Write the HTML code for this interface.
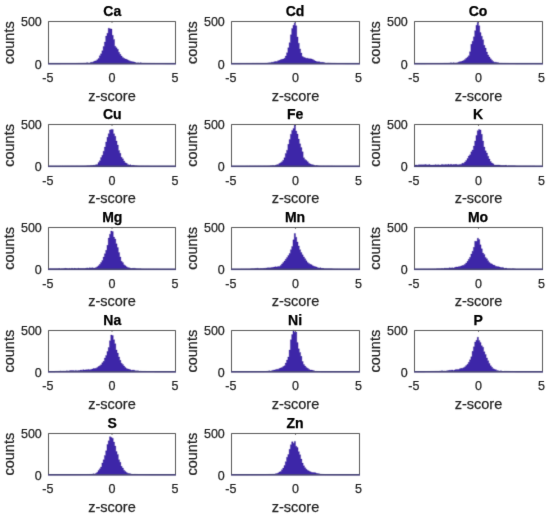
<!DOCTYPE html><html><head><meta charset="utf-8"><style>html,body{margin:0;padding:0;background:#fff;}svg{display:block}text{font-family:"Liberation Sans",sans-serif;fill:#262626;stroke:#262626;stroke-width:0.25px}</style></head><body>
<svg width="550" height="517" viewBox="0 0 550 517">
<defs>
<filter id="bl" x="0" y="0" width="550" height="517" filterUnits="userSpaceOnUse"><feConvolveMatrix order="3" kernelMatrix="0.0113 0.0838 0.0113 0.0838 0.6193 0.0838 0.0113 0.0838 0.0113" edgeMode="none"/></filter>
<filter id="bt" x="0" y="0" width="550" height="517" filterUnits="userSpaceOnUse"><feConvolveMatrix order="3" kernelMatrix="0.0052 0.0619 0.0052 0.0619 0.7314 0.0619 0.0052 0.0619 0.0052" edgeMode="none"/></filter>
</defs>
<rect width="550" height="517" fill="#fff"/>
<g filter="url(#bl)">
<path d="M48.50,63.70 L48.50,63.70 L49.77,63.70 L49.77,63.70 L51.04,63.70 L51.04,63.70 L52.31,63.70 L52.31,63.70 L53.58,63.70 L53.58,63.70 L54.85,63.70 L54.85,63.70 L56.12,63.70 L56.12,63.70 L57.39,63.70 L57.39,63.70 L58.66,63.70 L58.66,63.70 L59.93,63.70 L59.93,63.60 L61.20,63.60 L61.20,63.59 L62.47,63.59 L62.47,63.58 L63.74,63.58 L63.74,63.57 L65.01,63.57 L65.01,63.56 L66.28,63.56 L66.28,63.55 L67.55,63.55 L67.55,63.55 L68.82,63.55 L68.82,63.54 L70.09,63.54 L70.09,63.53 L71.36,63.53 L71.36,63.52 L72.63,63.52 L72.63,63.51 L73.90,63.51 L73.90,63.50 L75.17,63.50 L75.17,63.47 L76.44,63.47 L76.44,63.43 L77.71,63.43 L77.71,63.39 L78.98,63.39 L78.98,63.35 L80.25,63.35 L80.25,63.30 L81.52,63.30 L81.52,63.26 L82.79,63.26 L82.79,63.22 L84.06,63.22 L84.06,63.15 L85.33,63.15 L85.33,63.11 L86.60,63.11 L86.60,62.69 L87.87,62.69 L87.87,63.09 L89.14,63.09 L89.14,63.09 L90.41,63.09 L90.41,62.35 L91.68,62.35 L91.68,62.18 L92.95,62.18 L92.95,61.69 L94.22,61.69 L94.22,61.11 L95.49,61.11 L95.49,60.74 L96.76,60.74 L96.76,59.69 L98.03,59.69 L98.03,58.49 L99.30,58.49 L99.30,55.72 L100.57,55.72 L100.57,53.81 L101.84,53.81 L101.84,50.71 L103.11,50.71 L103.11,46.57 L104.38,46.57 L104.38,41.97 L105.65,41.97 L105.65,36.09 L106.92,36.09 L106.92,33.18 L108.19,33.18 L108.19,28.23 L109.46,28.23 L109.46,28.80 L110.73,28.80 L110.73,29.06 L112.00,29.06 L112.00,35.22 L113.27,35.22 L113.27,39.39 L114.54,39.39 L114.54,46.22 L115.81,46.22 L115.81,47.72 L117.08,47.72 L117.08,49.35 L118.35,49.35 L118.35,52.32 L119.62,52.32 L119.62,54.23 L120.89,54.23 L120.89,55.96 L122.16,55.96 L122.16,57.40 L123.43,57.40 L123.43,58.37 L124.70,58.37 L124.70,58.93 L125.97,58.93 L125.97,59.32 L127.24,59.32 L127.24,60.02 L128.51,60.02 L128.51,60.67 L129.78,60.67 L129.78,61.13 L131.05,61.13 L131.05,61.57 L132.32,61.57 L132.32,61.78 L133.59,61.78 L133.59,61.97 L134.86,61.97 L134.86,62.48 L136.13,62.48 L136.13,62.89 L137.40,62.89 L137.40,62.72 L138.67,62.72 L138.67,63.01 L139.94,63.01 L139.94,62.71 L141.21,62.71 L141.21,63.11 L142.48,63.11 L142.48,63.20 L143.75,63.20 L143.75,63.24 L145.02,63.24 L145.02,63.28 L146.29,63.28 L146.29,63.31 L147.56,63.31 L147.56,63.35 L148.83,63.35 L148.83,63.38 L150.10,63.38 L150.10,63.41 L151.37,63.41 L151.37,63.43 L152.64,63.43 L152.64,63.44 L153.91,63.44 L153.91,63.46 L155.18,63.46 L155.18,63.48 L156.45,63.48 L156.45,63.49 L157.72,63.49 L157.72,63.51 L158.99,63.51 L158.99,63.53 L160.26,63.53 L160.26,63.55 L161.53,63.55 L161.53,63.56 L162.80,63.56 L162.80,63.58 L164.07,63.58 L164.07,63.60 L165.34,63.60 L165.34,63.70 L166.61,63.70 L166.61,63.70 L167.88,63.70 L167.88,63.70 L169.15,63.70 L169.15,63.70 L170.42,63.70 L170.42,63.70 L171.69,63.70 L171.69,63.70 L172.96,63.70 L172.96,63.70 L174.23,63.70 L174.23,63.70 L175.50,63.70 L175.50,63.70 Z" fill="#3e26a8" stroke="#2a1a86" stroke-width="0.3" stroke-linejoin="miter"/>
<path d="M48.5,63.70 L48.5,21.5 L175.5,21.5 L175.5,63.70" fill="none" stroke="#565656" stroke-width="1.0"/>
<rect x="48.0" y="62.90" width="128.0" height="1.6" fill="#4a4478"/>
<line x1="48.50" y1="21.5" x2="48.50" y2="22.8" stroke="#565656" stroke-width="1"/>
<line x1="112.00" y1="21.5" x2="112.00" y2="22.8" stroke="#565656" stroke-width="1"/>
<line x1="175.50" y1="21.5" x2="175.50" y2="22.8" stroke="#565656" stroke-width="1"/>
<path d="M231.50,63.70 L231.50,63.70 L232.78,63.70 L232.78,63.70 L234.06,63.70 L234.06,63.70 L235.34,63.70 L235.34,63.70 L236.62,63.70 L236.62,63.70 L237.90,63.70 L237.90,63.70 L239.18,63.70 L239.18,63.70 L240.46,63.70 L240.46,63.50 L241.74,63.50 L241.74,63.49 L243.02,63.49 L243.02,63.49 L244.30,63.49 L244.30,63.48 L245.58,63.48 L245.58,63.48 L246.86,63.48 L246.86,63.47 L248.14,63.47 L248.14,63.46 L249.42,63.46 L249.42,63.46 L250.70,63.46 L250.70,63.45 L251.98,63.45 L251.98,63.40 L253.26,63.40 L253.26,63.39 L254.54,63.39 L254.54,63.39 L255.82,63.39 L255.82,63.38 L257.10,63.38 L257.10,63.37 L258.38,63.37 L258.38,63.37 L259.66,63.37 L259.66,63.36 L260.94,63.36 L260.94,63.36 L262.22,63.36 L262.22,63.35 L263.50,63.35 L263.50,63.34 L264.78,63.34 L264.78,63.28 L266.06,63.28 L266.06,63.26 L267.34,63.26 L267.34,62.92 L268.62,62.92 L268.62,62.78 L269.90,62.78 L269.90,62.73 L271.18,62.73 L271.18,62.20 L272.46,62.20 L272.46,62.26 L273.74,62.26 L273.74,61.68 L275.02,61.68 L275.02,61.47 L276.30,61.47 L276.30,61.47 L277.58,61.47 L277.58,60.72 L278.86,60.72 L278.86,60.35 L280.14,60.35 L280.14,59.82 L281.42,59.82 L281.42,59.35 L282.70,59.35 L282.70,59.07 L283.98,59.07 L283.98,58.20 L285.26,58.20 L285.26,56.06 L286.54,56.06 L286.54,52.64 L287.82,52.64 L287.82,47.78 L289.10,47.78 L289.10,42.67 L290.38,42.67 L290.38,34.83 L291.66,34.83 L291.66,28.39 L292.94,28.39 L292.94,25.24 L294.22,25.24 L294.22,22.70 L295.50,22.70 L295.50,25.74 L296.78,25.74 L296.78,36.88 L298.06,36.88 L298.06,43.16 L299.34,43.16 L299.34,48.89 L300.62,48.89 L300.62,52.93 L301.90,52.93 L301.90,56.54 L303.18,56.54 L303.18,57.32 L304.46,57.32 L304.46,57.85 L305.74,57.85 L305.74,58.26 L307.02,58.26 L307.02,58.22 L308.30,58.22 L308.30,58.67 L309.58,58.67 L309.58,58.81 L310.86,58.81 L310.86,58.91 L312.14,58.91 L312.14,59.57 L313.42,59.57 L313.42,60.26 L314.70,60.26 L314.70,61.07 L315.98,61.07 L315.98,61.61 L317.26,61.61 L317.26,61.86 L318.54,61.86 L318.54,61.67 L319.82,61.67 L319.82,62.19 L321.10,62.19 L321.10,62.26 L322.38,62.26 L322.38,62.35 L323.66,62.35 L323.66,62.64 L324.94,62.64 L324.94,63.11 L326.22,63.11 L326.22,63.18 L327.50,63.18 L327.50,62.94 L328.78,62.94 L328.78,63.13 L330.06,63.13 L330.06,63.20 L331.34,63.20 L331.34,63.28 L332.62,63.28 L332.62,63.35 L333.90,63.35 L333.90,63.37 L335.18,63.37 L335.18,63.40 L336.46,63.40 L336.46,63.47 L337.74,63.47 L337.74,63.49 L339.02,63.49 L339.02,63.51 L340.30,63.51 L340.30,63.53 L341.58,63.53 L341.58,63.55 L342.86,63.55 L342.86,63.58 L344.14,63.58 L344.14,63.60 L345.42,63.60 L345.42,63.70 L346.70,63.70 L346.70,63.70 L347.98,63.70 L347.98,63.70 L349.26,63.70 L349.26,63.70 L350.54,63.70 L350.54,63.70 L351.82,63.70 L351.82,63.70 L353.10,63.70 L353.10,63.70 L354.38,63.70 L354.38,63.70 L355.66,63.70 L355.66,63.70 L356.94,63.70 L356.94,63.70 L358.22,63.70 L358.22,63.70 L359.50,63.70 L359.50,63.70 Z" fill="#3e26a8" stroke="#2a1a86" stroke-width="0.3" stroke-linejoin="miter"/>
<path d="M231.5,63.70 L231.5,21.5 L359.5,21.5 L359.5,63.70" fill="none" stroke="#565656" stroke-width="1.0"/>
<rect x="231.0" y="62.90" width="129.0" height="1.6" fill="#4a4478"/>
<line x1="231.50" y1="21.5" x2="231.50" y2="22.8" stroke="#565656" stroke-width="1"/>
<line x1="295.50" y1="21.5" x2="295.50" y2="22.8" stroke="#565656" stroke-width="1"/>
<line x1="359.50" y1="21.5" x2="359.50" y2="22.8" stroke="#565656" stroke-width="1"/>
<path d="M414.50,63.70 L414.50,63.70 L415.78,63.70 L415.78,63.70 L417.06,63.70 L417.06,63.70 L418.34,63.70 L418.34,63.70 L419.62,63.70 L419.62,63.70 L420.90,63.70 L420.90,63.70 L422.18,63.70 L422.18,63.70 L423.46,63.70 L423.46,63.70 L424.74,63.70 L424.74,63.60 L426.02,63.60 L426.02,63.59 L427.30,63.59 L427.30,63.58 L428.58,63.58 L428.58,63.57 L429.86,63.57 L429.86,63.56 L431.14,63.56 L431.14,63.55 L432.42,63.55 L432.42,63.55 L433.70,63.55 L433.70,63.54 L434.98,63.54 L434.98,63.53 L436.26,63.53 L436.26,63.52 L437.54,63.52 L437.54,63.51 L438.82,63.51 L438.82,63.50 L440.10,63.50 L440.10,63.48 L441.38,63.48 L441.38,63.45 L442.66,63.45 L442.66,63.42 L443.94,63.42 L443.94,63.39 L445.22,63.39 L445.22,63.35 L446.50,63.35 L446.50,63.32 L447.78,63.32 L447.78,63.27 L449.06,63.27 L449.06,63.17 L450.34,63.17 L450.34,62.86 L451.62,62.86 L451.62,63.11 L452.90,63.11 L452.90,62.76 L454.18,62.76 L454.18,63.01 L455.46,63.01 L455.46,62.88 L456.74,62.88 L456.74,62.69 L458.02,62.69 L458.02,62.14 L459.30,62.14 L459.30,61.66 L460.58,61.66 L460.58,61.56 L461.86,61.56 L461.86,60.93 L463.14,60.93 L463.14,60.50 L464.42,60.50 L464.42,59.39 L465.70,59.39 L465.70,58.25 L466.98,58.25 L466.98,57.13 L468.26,57.13 L468.26,55.75 L469.54,55.75 L469.54,51.76 L470.82,51.76 L470.82,44.35 L472.10,44.35 L472.10,41.31 L473.38,41.31 L473.38,36.85 L474.66,36.85 L474.66,30.63 L475.94,30.63 L475.94,25.30 L477.22,25.30 L477.22,22.20 L478.50,22.20 L478.50,25.71 L479.78,25.71 L479.78,32.57 L481.06,32.57 L481.06,36.18 L482.34,36.18 L482.34,39.71 L483.62,39.71 L483.62,45.29 L484.90,45.29 L484.90,48.09 L486.18,48.09 L486.18,52.04 L487.46,52.04 L487.46,54.90 L488.74,54.90 L488.74,56.94 L490.02,56.94 L490.02,58.82 L491.30,58.82 L491.30,60.16 L492.58,60.16 L492.58,61.40 L493.86,61.40 L493.86,62.24 L495.14,62.24 L495.14,62.15 L496.42,62.15 L496.42,62.58 L497.70,62.58 L497.70,62.71 L498.98,62.71 L498.98,63.32 L500.26,63.32 L500.26,63.19 L501.54,63.19 L501.54,63.30 L502.82,63.30 L502.82,63.33 L504.10,63.33 L504.10,63.36 L505.38,63.36 L505.38,63.39 L506.66,63.39 L506.66,63.42 L507.94,63.42 L507.94,63.45 L509.22,63.45 L509.22,63.48 L510.50,63.48 L510.50,63.51 L511.78,63.51 L511.78,63.54 L513.06,63.54 L513.06,63.57 L514.34,63.57 L514.34,63.60 L515.62,63.60 L515.62,63.70 L516.90,63.70 L516.90,63.70 L518.18,63.70 L518.18,63.70 L519.46,63.70 L519.46,63.70 L520.74,63.70 L520.74,63.70 L522.02,63.70 L522.02,63.70 L523.30,63.70 L523.30,63.70 L524.58,63.70 L524.58,63.70 L525.86,63.70 L525.86,63.70 L527.14,63.70 L527.14,63.70 L528.42,63.70 L528.42,63.70 L529.70,63.70 L529.70,63.70 L530.98,63.70 L530.98,63.70 L532.26,63.70 L532.26,63.70 L533.54,63.70 L533.54,63.70 L534.82,63.70 L534.82,63.70 L536.10,63.70 L536.10,63.70 L537.38,63.70 L537.38,63.70 L538.66,63.70 L538.66,63.70 L539.94,63.70 L539.94,63.70 L541.22,63.70 L541.22,63.70 L542.50,63.70 L542.50,63.70 Z" fill="#3e26a8" stroke="#2a1a86" stroke-width="0.3" stroke-linejoin="miter"/>
<path d="M414.5,63.70 L414.5,21.5 L542.5,21.5 L542.5,63.70" fill="none" stroke="#565656" stroke-width="1.0"/>
<rect x="414.0" y="62.90" width="129.0" height="1.6" fill="#4a4478"/>
<line x1="414.50" y1="21.5" x2="414.50" y2="22.8" stroke="#565656" stroke-width="1"/>
<line x1="478.50" y1="21.5" x2="478.50" y2="22.8" stroke="#565656" stroke-width="1"/>
<line x1="542.50" y1="21.5" x2="542.50" y2="22.8" stroke="#565656" stroke-width="1"/>
<path d="M48.50,166.30 L48.50,166.30 L49.77,166.30 L49.77,166.30 L51.04,166.30 L51.04,166.30 L52.31,166.30 L52.31,166.30 L53.58,166.30 L53.58,166.30 L54.85,166.30 L54.85,166.30 L56.12,166.30 L56.12,166.30 L57.39,166.30 L57.39,166.30 L58.66,166.30 L58.66,166.30 L59.93,166.30 L59.93,166.20 L61.20,166.20 L61.20,166.19 L62.47,166.19 L62.47,166.18 L63.74,166.18 L63.74,166.18 L65.01,166.18 L65.01,166.17 L66.28,166.17 L66.28,166.17 L67.55,166.17 L67.55,166.16 L68.82,166.16 L68.82,166.15 L70.09,166.15 L70.09,166.15 L71.36,166.15 L71.36,166.14 L72.63,166.14 L72.63,166.13 L73.90,166.13 L73.90,166.13 L75.17,166.13 L75.17,166.12 L76.44,166.12 L76.44,166.11 L77.71,166.11 L77.71,166.11 L78.98,166.11 L78.98,166.10 L80.25,166.10 L80.25,166.07 L81.52,166.07 L81.52,166.02 L82.79,166.02 L82.79,165.97 L84.06,165.97 L84.06,165.92 L85.33,165.92 L85.33,165.88 L86.60,165.88 L86.60,165.83 L87.87,165.83 L87.87,165.76 L89.14,165.76 L89.14,165.72 L90.41,165.72 L90.41,165.38 L91.68,165.38 L91.68,165.46 L92.95,165.46 L92.95,165.32 L94.22,165.32 L94.22,165.23 L95.49,165.23 L95.49,164.75 L96.76,164.75 L96.76,164.38 L98.03,164.38 L98.03,162.55 L99.30,162.55 L99.30,160.68 L100.57,160.68 L100.57,157.61 L101.84,157.61 L101.84,155.17 L103.11,155.17 L103.11,151.14 L104.38,151.14 L104.38,147.09 L105.65,147.09 L105.65,141.92 L106.92,141.92 L106.92,137.33 L108.19,137.33 L108.19,133.66 L109.46,133.66 L109.46,130.00 L110.73,130.00 L110.73,129.40 L112.00,129.40 L112.00,129.47 L113.27,129.47 L113.27,133.77 L114.54,133.77 L114.54,136.34 L115.81,136.34 L115.81,140.98 L117.08,140.98 L117.08,145.02 L118.35,145.02 L118.35,150.46 L119.62,150.46 L119.62,153.34 L120.89,153.34 L120.89,157.28 L122.16,157.28 L122.16,158.84 L123.43,158.84 L123.43,160.95 L124.70,160.95 L124.70,162.80 L125.97,162.80 L125.97,163.34 L127.24,163.34 L127.24,164.41 L128.51,164.41 L128.51,165.04 L129.78,165.04 L129.78,164.86 L131.05,164.86 L131.05,165.57 L132.32,165.57 L132.32,165.33 L133.59,165.33 L133.59,165.61 L134.86,165.61 L134.86,165.74 L136.13,165.74 L136.13,165.82 L137.40,165.82 L137.40,165.89 L138.67,165.89 L138.67,165.96 L139.94,165.96 L139.94,166.01 L141.21,166.01 L141.21,166.04 L142.48,166.04 L142.48,166.06 L143.75,166.06 L143.75,166.09 L145.02,166.09 L145.02,166.11 L146.29,166.11 L146.29,166.14 L147.56,166.14 L147.56,166.16 L148.83,166.16 L148.83,166.19 L150.10,166.19 L150.10,166.30 L151.37,166.30 L151.37,166.30 L152.64,166.30 L152.64,166.30 L153.91,166.30 L153.91,166.30 L155.18,166.30 L155.18,166.30 L156.45,166.30 L156.45,166.30 L157.72,166.30 L157.72,166.30 L158.99,166.30 L158.99,166.30 L160.26,166.30 L160.26,166.30 L161.53,166.30 L161.53,166.30 L162.80,166.30 L162.80,166.30 L164.07,166.30 L164.07,166.30 L165.34,166.30 L165.34,166.30 L166.61,166.30 L166.61,166.30 L167.88,166.30 L167.88,166.30 L169.15,166.30 L169.15,166.30 L170.42,166.30 L170.42,166.30 L171.69,166.30 L171.69,166.30 L172.96,166.30 L172.96,166.30 L174.23,166.30 L174.23,166.30 L175.50,166.30 L175.50,166.30 Z" fill="#3e26a8" stroke="#2a1a86" stroke-width="0.3" stroke-linejoin="miter"/>
<path d="M48.5,166.30 L48.5,124.5 L175.5,124.5 L175.5,166.30" fill="none" stroke="#565656" stroke-width="1.0"/>
<rect x="48.0" y="165.50" width="128.0" height="1.6" fill="#4a4478"/>
<line x1="48.50" y1="124.5" x2="48.50" y2="125.8" stroke="#565656" stroke-width="1"/>
<line x1="112.00" y1="124.5" x2="112.00" y2="125.8" stroke="#565656" stroke-width="1"/>
<line x1="175.50" y1="124.5" x2="175.50" y2="125.8" stroke="#565656" stroke-width="1"/>
<path d="M231.50,166.30 L231.50,166.30 L232.78,166.30 L232.78,166.30 L234.06,166.30 L234.06,166.30 L235.34,166.30 L235.34,166.30 L236.62,166.30 L236.62,166.30 L237.90,166.30 L237.90,166.30 L239.18,166.30 L239.18,166.30 L240.46,166.30 L240.46,166.30 L241.74,166.30 L241.74,166.30 L243.02,166.30 L243.02,166.30 L244.30,166.30 L244.30,166.30 L245.58,166.30 L245.58,166.19 L246.86,166.19 L246.86,166.19 L248.14,166.19 L248.14,166.18 L249.42,166.18 L249.42,166.17 L250.70,166.17 L250.70,166.16 L251.98,166.16 L251.98,166.16 L253.26,166.16 L253.26,166.15 L254.54,166.15 L254.54,166.14 L255.82,166.14 L255.82,166.13 L257.10,166.13 L257.10,166.13 L258.38,166.13 L258.38,166.12 L259.66,166.12 L259.66,166.11 L260.94,166.11 L260.94,166.10 L262.22,166.10 L262.22,166.08 L263.50,166.08 L263.50,166.05 L264.78,166.05 L264.78,166.01 L266.06,166.01 L266.06,165.98 L267.34,165.98 L267.34,165.95 L268.62,165.95 L268.62,165.92 L269.90,165.92 L269.90,165.86 L271.18,165.86 L271.18,165.77 L272.46,165.77 L272.46,165.40 L273.74,165.40 L273.74,165.68 L275.02,165.68 L275.02,165.21 L276.30,165.21 L276.30,164.82 L277.58,164.82 L277.58,164.41 L278.86,164.41 L278.86,163.42 L280.14,163.42 L280.14,162.80 L281.42,162.80 L281.42,161.69 L282.70,161.69 L282.70,160.20 L283.98,160.20 L283.98,157.68 L285.26,157.68 L285.26,153.45 L286.54,153.45 L286.54,150.13 L287.82,150.13 L287.82,144.36 L289.10,144.36 L289.10,139.56 L290.38,139.56 L290.38,134.13 L291.66,134.13 L291.66,130.39 L292.94,130.39 L292.94,128.57 L294.22,128.57 L294.22,124.80 L295.50,124.80 L295.50,130.98 L296.78,130.98 L296.78,134.00 L298.06,134.00 L298.06,139.10 L299.34,139.10 L299.34,143.85 L300.62,143.85 L300.62,147.55 L301.90,147.55 L301.90,151.81 L303.18,151.81 L303.18,157.66 L304.46,157.66 L304.46,159.48 L305.74,159.48 L305.74,160.41 L307.02,160.41 L307.02,161.63 L308.30,161.63 L308.30,163.15 L309.58,163.15 L309.58,163.90 L310.86,163.90 L310.86,164.49 L312.14,164.49 L312.14,164.67 L313.42,164.67 L313.42,165.17 L314.70,165.17 L314.70,165.77 L315.98,165.77 L315.98,165.55 L317.26,165.55 L317.26,165.81 L318.54,165.81 L318.54,165.93 L319.82,165.93 L319.82,166.01 L321.10,166.01 L321.10,166.02 L322.38,166.02 L322.38,166.04 L323.66,166.04 L323.66,166.06 L324.94,166.06 L324.94,166.07 L326.22,166.07 L326.22,166.09 L327.50,166.09 L327.50,166.11 L328.78,166.11 L328.78,166.13 L330.06,166.13 L330.06,166.14 L331.34,166.14 L331.34,166.16 L332.62,166.16 L332.62,166.18 L333.90,166.18 L333.90,166.19 L335.18,166.19 L335.18,166.30 L336.46,166.30 L336.46,166.30 L337.74,166.30 L337.74,166.30 L339.02,166.30 L339.02,166.30 L340.30,166.30 L340.30,166.30 L341.58,166.30 L341.58,166.30 L342.86,166.30 L342.86,166.30 L344.14,166.30 L344.14,166.30 L345.42,166.30 L345.42,166.30 L346.70,166.30 L346.70,166.30 L347.98,166.30 L347.98,166.30 L349.26,166.30 L349.26,166.30 L350.54,166.30 L350.54,166.30 L351.82,166.30 L351.82,166.30 L353.10,166.30 L353.10,166.30 L354.38,166.30 L354.38,166.30 L355.66,166.30 L355.66,166.30 L356.94,166.30 L356.94,166.30 L358.22,166.30 L358.22,166.30 L359.50,166.30 L359.50,166.30 Z" fill="#3e26a8" stroke="#2a1a86" stroke-width="0.3" stroke-linejoin="miter"/>
<path d="M231.5,166.30 L231.5,124.5 L359.5,124.5 L359.5,166.30" fill="none" stroke="#565656" stroke-width="1.0"/>
<rect x="231.0" y="165.50" width="129.0" height="1.6" fill="#4a4478"/>
<line x1="231.50" y1="124.5" x2="231.50" y2="125.8" stroke="#565656" stroke-width="1"/>
<line x1="295.50" y1="124.5" x2="295.50" y2="125.8" stroke="#565656" stroke-width="1"/>
<line x1="359.50" y1="124.5" x2="359.50" y2="125.8" stroke="#565656" stroke-width="1"/>
<path d="M414.50,166.30 L414.50,165.01 L415.78,165.01 L415.78,164.99 L417.06,164.99 L417.06,165.21 L418.34,165.21 L418.34,164.75 L419.62,164.75 L419.62,164.78 L420.90,164.78 L420.90,164.76 L422.18,164.76 L422.18,164.86 L423.46,164.86 L423.46,164.71 L424.74,164.71 L424.74,164.57 L426.02,164.57 L426.02,164.70 L427.30,164.70 L427.30,164.92 L428.58,164.92 L428.58,164.60 L429.86,164.60 L429.86,164.96 L431.14,164.96 L431.14,165.12 L432.42,165.12 L432.42,165.03 L433.70,165.03 L433.70,164.90 L434.98,164.90 L434.98,164.67 L436.26,164.67 L436.26,164.94 L437.54,164.94 L437.54,164.71 L438.82,164.71 L438.82,164.91 L440.10,164.91 L440.10,165.02 L441.38,165.02 L441.38,164.41 L442.66,164.41 L442.66,164.63 L443.94,164.63 L443.94,164.68 L445.22,164.68 L445.22,164.53 L446.50,164.53 L446.50,164.84 L447.78,164.84 L447.78,164.37 L449.06,164.37 L449.06,164.69 L450.34,164.69 L450.34,164.27 L451.62,164.27 L451.62,164.72 L452.90,164.72 L452.90,164.52 L454.18,164.52 L454.18,164.59 L455.46,164.59 L455.46,164.37 L456.74,164.37 L456.74,164.68 L458.02,164.68 L458.02,164.63 L459.30,164.63 L459.30,164.41 L460.58,164.41 L460.58,164.18 L461.86,164.18 L461.86,163.32 L463.14,163.32 L463.14,163.23 L464.42,163.23 L464.42,161.93 L465.70,161.93 L465.70,160.50 L466.98,160.50 L466.98,158.53 L468.26,158.53 L468.26,156.08 L469.54,156.08 L469.54,154.70 L470.82,154.70 L470.82,151.84 L472.10,151.84 L472.10,149.90 L473.38,149.90 L473.38,146.04 L474.66,146.04 L474.66,140.94 L475.94,140.94 L475.94,135.49 L477.22,135.49 L477.22,130.67 L478.50,130.67 L478.50,129.40 L479.78,129.40 L479.78,129.91 L481.06,129.91 L481.06,134.29 L482.34,134.29 L482.34,141.06 L483.62,141.06 L483.62,146.95 L484.90,146.95 L484.90,150.81 L486.18,150.81 L486.18,152.99 L487.46,152.99 L487.46,156.24 L488.74,156.24 L488.74,159.03 L490.02,159.03 L490.02,161.52 L491.30,161.52 L491.30,162.94 L492.58,162.94 L492.58,163.86 L493.86,163.86 L493.86,164.93 L495.14,164.93 L495.14,165.01 L496.42,165.01 L496.42,165.03 L497.70,165.03 L497.70,164.98 L498.98,164.98 L498.98,165.08 L500.26,165.08 L500.26,165.39 L501.54,165.39 L501.54,165.47 L502.82,165.47 L502.82,165.45 L504.10,165.45 L504.10,165.55 L505.38,165.55 L505.38,165.31 L506.66,165.31 L506.66,165.90 L507.94,165.90 L507.94,165.71 L509.22,165.71 L509.22,165.75 L510.50,165.75 L510.50,165.78 L511.78,165.78 L511.78,165.81 L513.06,165.81 L513.06,165.84 L514.34,165.84 L514.34,165.87 L515.62,165.87 L515.62,165.91 L516.90,165.91 L516.90,165.94 L518.18,165.94 L518.18,165.97 L519.46,165.97 L519.46,166.00 L520.74,166.00 L520.74,166.01 L522.02,166.01 L522.02,166.02 L523.30,166.02 L523.30,166.03 L524.58,166.03 L524.58,166.03 L525.86,166.03 L525.86,166.04 L527.14,166.04 L527.14,166.05 L528.42,166.05 L528.42,166.06 L529.70,166.06 L529.70,166.07 L530.98,166.07 L530.98,166.08 L532.26,166.08 L532.26,166.09 L533.54,166.09 L533.54,166.09 L534.82,166.09 L534.82,166.30 L536.10,166.30 L536.10,166.30 L537.38,166.30 L537.38,166.30 L538.66,166.30 L538.66,166.30 L539.94,166.30 L539.94,166.30 L541.22,166.30 L541.22,166.30 L542.50,166.30 L542.50,166.30 Z" fill="#3e26a8" stroke="#2a1a86" stroke-width="0.3" stroke-linejoin="miter"/>
<path d="M414.5,166.30 L414.5,124.5 L542.5,124.5 L542.5,166.30" fill="none" stroke="#565656" stroke-width="1.0"/>
<rect x="414.0" y="165.50" width="129.0" height="1.6" fill="#4a4478"/>
<line x1="414.50" y1="124.5" x2="414.50" y2="125.8" stroke="#565656" stroke-width="1"/>
<line x1="478.50" y1="124.5" x2="478.50" y2="125.8" stroke="#565656" stroke-width="1"/>
<line x1="542.50" y1="124.5" x2="542.50" y2="125.8" stroke="#565656" stroke-width="1"/>
<path d="M48.50,269.30 L48.50,268.79 L49.77,268.79 L49.77,268.78 L51.04,268.78 L51.04,268.77 L52.31,268.77 L52.31,268.76 L53.58,268.76 L53.58,268.74 L54.85,268.74 L54.85,268.73 L56.12,268.73 L56.12,268.72 L57.39,268.72 L57.39,268.71 L58.66,268.71 L58.66,268.56 L59.93,268.56 L59.93,268.90 L61.20,268.90 L61.20,268.66 L62.47,268.66 L62.47,268.80 L63.74,268.80 L63.74,268.44 L65.01,268.44 L65.01,268.36 L66.28,268.36 L66.28,268.55 L67.55,268.55 L67.55,268.66 L68.82,268.66 L68.82,268.48 L70.09,268.48 L70.09,268.80 L71.36,268.80 L71.36,268.28 L72.63,268.28 L72.63,268.73 L73.90,268.73 L73.90,268.37 L75.17,268.37 L75.17,268.47 L76.44,268.47 L76.44,268.67 L77.71,268.67 L77.71,268.21 L78.98,268.21 L78.98,268.48 L80.25,268.48 L80.25,268.43 L81.52,268.43 L81.52,268.51 L82.79,268.51 L82.79,268.41 L84.06,268.41 L84.06,268.46 L85.33,268.46 L85.33,268.29 L86.60,268.29 L86.60,267.88 L87.87,267.88 L87.87,268.28 L89.14,268.28 L89.14,267.82 L90.41,267.82 L90.41,268.00 L91.68,268.00 L91.68,267.77 L92.95,267.77 L92.95,267.96 L94.22,267.96 L94.22,267.96 L95.49,267.96 L95.49,267.57 L96.76,267.57 L96.76,266.77 L98.03,266.77 L98.03,265.66 L99.30,265.66 L99.30,264.31 L100.57,264.31 L100.57,262.51 L101.84,262.51 L101.84,260.40 L103.11,260.40 L103.11,257.03 L104.38,257.03 L104.38,253.68 L105.65,253.68 L105.65,250.37 L106.92,250.37 L106.92,245.33 L108.19,245.33 L108.19,238.07 L109.46,238.07 L109.46,234.13 L110.73,234.13 L110.73,231.10 L112.00,231.10 L112.00,231.44 L113.27,231.44 L113.27,237.12 L114.54,237.12 L114.54,238.97 L115.81,238.97 L115.81,243.77 L117.08,243.77 L117.08,247.62 L118.35,247.62 L118.35,252.61 L119.62,252.61 L119.62,256.95 L120.89,256.95 L120.89,261.16 L122.16,261.16 L122.16,262.62 L123.43,262.62 L123.43,264.86 L124.70,264.86 L124.70,265.74 L125.97,265.74 L125.97,266.84 L127.24,266.84 L127.24,267.60 L128.51,267.60 L128.51,267.77 L129.78,267.77 L129.78,268.25 L131.05,268.25 L131.05,268.47 L132.32,268.47 L132.32,268.30 L133.59,268.30 L133.59,268.20 L134.86,268.20 L134.86,268.41 L136.13,268.41 L136.13,268.67 L137.40,268.67 L137.40,268.80 L138.67,268.80 L138.67,268.84 L139.94,268.84 L139.94,268.87 L141.21,268.87 L141.21,268.91 L142.48,268.91 L142.48,268.95 L143.75,268.95 L143.75,268.98 L145.02,268.98 L145.02,269.01 L146.29,269.01 L146.29,269.03 L147.56,269.03 L147.56,269.04 L148.83,269.04 L148.83,269.06 L150.10,269.06 L150.10,269.08 L151.37,269.08 L151.37,269.09 L152.64,269.09 L152.64,269.11 L153.91,269.11 L153.91,269.13 L155.18,269.13 L155.18,269.14 L156.45,269.14 L156.45,269.16 L157.72,269.16 L157.72,269.18 L158.99,269.18 L158.99,269.19 L160.26,269.19 L160.26,269.30 L161.53,269.30 L161.53,269.30 L162.80,269.30 L162.80,269.30 L164.07,269.30 L164.07,269.30 L165.34,269.30 L165.34,269.30 L166.61,269.30 L166.61,269.30 L167.88,269.30 L167.88,269.30 L169.15,269.30 L169.15,269.30 L170.42,269.30 L170.42,269.30 L171.69,269.30 L171.69,269.30 L172.96,269.30 L172.96,269.30 L174.23,269.30 L174.23,269.30 L175.50,269.30 L175.50,269.30 Z" fill="#3e26a8" stroke="#2a1a86" stroke-width="0.3" stroke-linejoin="miter"/>
<path d="M48.5,269.30 L48.5,227.5 L175.5,227.5 L175.5,269.30" fill="none" stroke="#565656" stroke-width="1.0"/>
<rect x="48.0" y="268.50" width="128.0" height="1.6" fill="#4a4478"/>
<line x1="48.50" y1="227.5" x2="48.50" y2="228.8" stroke="#565656" stroke-width="1"/>
<line x1="112.00" y1="227.5" x2="112.00" y2="228.8" stroke="#565656" stroke-width="1"/>
<line x1="175.50" y1="227.5" x2="175.50" y2="228.8" stroke="#565656" stroke-width="1"/>
<path d="M231.50,269.30 L231.50,269.30 L232.78,269.30 L232.78,269.30 L234.06,269.30 L234.06,269.30 L235.34,269.30 L235.34,269.30 L236.62,269.30 L236.62,269.30 L237.90,269.30 L237.90,269.30 L239.18,269.30 L239.18,269.30 L240.46,269.30 L240.46,269.18 L241.74,269.18 L241.74,269.15 L243.02,269.15 L243.02,269.13 L244.30,269.13 L244.30,269.10 L245.58,269.10 L245.58,269.08 L246.86,269.08 L246.86,269.05 L248.14,269.05 L248.14,268.97 L249.42,268.97 L249.42,268.94 L250.70,268.94 L250.70,268.86 L251.98,268.86 L251.98,268.78 L253.26,268.78 L253.26,268.71 L254.54,268.71 L254.54,268.61 L255.82,268.61 L255.82,268.41 L257.10,268.41 L257.10,268.20 L258.38,268.20 L258.38,268.69 L259.66,268.69 L259.66,268.46 L260.94,268.46 L260.94,268.52 L262.22,268.52 L262.22,268.41 L263.50,268.41 L263.50,268.34 L264.78,268.34 L264.78,268.13 L266.06,268.13 L266.06,267.99 L267.34,267.99 L267.34,267.73 L268.62,267.73 L268.62,267.81 L269.90,267.81 L269.90,267.71 L271.18,267.71 L271.18,267.44 L272.46,267.44 L272.46,267.33 L273.74,267.33 L273.74,267.07 L275.02,267.07 L275.02,266.77 L276.30,266.77 L276.30,266.99 L277.58,266.99 L277.58,266.44 L278.86,266.44 L278.86,266.50 L280.14,266.50 L280.14,265.49 L281.42,265.49 L281.42,263.96 L282.70,263.96 L282.70,262.58 L283.98,262.58 L283.98,261.01 L285.26,261.01 L285.26,259.18 L286.54,259.18 L286.54,257.59 L287.82,257.59 L287.82,255.61 L289.10,255.61 L289.10,253.52 L290.38,253.52 L290.38,249.74 L291.66,249.74 L291.66,246.42 L292.94,246.42 L292.94,239.87 L294.22,239.87 L294.22,233.50 L295.50,233.50 L295.50,237.16 L296.78,237.16 L296.78,241.90 L298.06,241.90 L298.06,245.92 L299.34,245.92 L299.34,249.65 L300.62,249.65 L300.62,252.59 L301.90,252.59 L301.90,254.87 L303.18,254.87 L303.18,256.88 L304.46,256.88 L304.46,258.74 L305.74,258.74 L305.74,260.77 L307.02,260.77 L307.02,262.58 L308.30,262.58 L308.30,263.48 L309.58,263.48 L309.58,264.32 L310.86,264.32 L310.86,264.80 L312.14,264.80 L312.14,265.82 L313.42,265.82 L313.42,266.34 L314.70,266.34 L314.70,266.67 L315.98,266.67 L315.98,267.06 L317.26,267.06 L317.26,267.66 L318.54,267.66 L318.54,267.88 L319.82,267.88 L319.82,267.87 L321.10,267.87 L321.10,268.34 L322.38,268.34 L322.38,268.35 L323.66,268.35 L323.66,268.85 L324.94,268.85 L324.94,268.71 L326.22,268.71 L326.22,268.74 L327.50,268.74 L327.50,268.78 L328.78,268.78 L328.78,268.81 L330.06,268.81 L330.06,268.84 L331.34,268.84 L331.34,268.87 L332.62,268.87 L332.62,268.90 L333.90,268.90 L333.90,268.93 L335.18,268.93 L335.18,268.96 L336.46,268.96 L336.46,268.99 L337.74,268.99 L337.74,269.07 L339.02,269.07 L339.02,269.09 L340.30,269.09 L340.30,269.30 L341.58,269.30 L341.58,269.30 L342.86,269.30 L342.86,269.30 L344.14,269.30 L344.14,269.30 L345.42,269.30 L345.42,269.30 L346.70,269.30 L346.70,269.30 L347.98,269.30 L347.98,269.30 L349.26,269.30 L349.26,269.30 L350.54,269.30 L350.54,269.30 L351.82,269.30 L351.82,269.30 L353.10,269.30 L353.10,269.30 L354.38,269.30 L354.38,269.30 L355.66,269.30 L355.66,269.30 L356.94,269.30 L356.94,269.30 L358.22,269.30 L358.22,269.30 L359.50,269.30 L359.50,269.30 Z" fill="#3e26a8" stroke="#2a1a86" stroke-width="0.3" stroke-linejoin="miter"/>
<path d="M231.5,269.30 L231.5,227.5 L359.5,227.5 L359.5,269.30" fill="none" stroke="#565656" stroke-width="1.0"/>
<rect x="231.0" y="268.50" width="129.0" height="1.6" fill="#4a4478"/>
<line x1="231.50" y1="227.5" x2="231.50" y2="228.8" stroke="#565656" stroke-width="1"/>
<line x1="295.50" y1="227.5" x2="295.50" y2="228.8" stroke="#565656" stroke-width="1"/>
<line x1="359.50" y1="227.5" x2="359.50" y2="228.8" stroke="#565656" stroke-width="1"/>
<path d="M414.50,269.30 L414.50,269.30 L415.78,269.30 L415.78,269.30 L417.06,269.30 L417.06,269.30 L418.34,269.30 L418.34,269.30 L419.62,269.30 L419.62,269.20 L420.90,269.20 L420.90,269.18 L422.18,269.18 L422.18,269.16 L423.46,269.16 L423.46,269.15 L424.74,269.15 L424.74,269.13 L426.02,269.13 L426.02,269.11 L427.30,269.11 L427.30,269.09 L428.58,269.09 L428.58,269.08 L429.86,269.08 L429.86,269.06 L431.14,269.06 L431.14,268.97 L432.42,268.97 L432.42,268.95 L433.70,268.95 L433.70,268.93 L434.98,268.93 L434.98,268.89 L436.26,268.89 L436.26,268.83 L437.54,268.83 L437.54,268.77 L438.82,268.77 L438.82,268.70 L440.10,268.70 L440.10,268.72 L441.38,268.72 L441.38,268.45 L442.66,268.45 L442.66,268.81 L443.94,268.81 L443.94,268.22 L445.22,268.22 L445.22,268.23 L446.50,268.23 L446.50,268.22 L447.78,268.22 L447.78,268.18 L449.06,268.18 L449.06,267.82 L450.34,267.82 L450.34,267.89 L451.62,267.89 L451.62,267.72 L452.90,267.72 L452.90,267.91 L454.18,267.91 L454.18,267.60 L455.46,267.60 L455.46,266.98 L456.74,266.98 L456.74,266.98 L458.02,266.98 L458.02,266.74 L459.30,266.74 L459.30,266.38 L460.58,266.38 L460.58,266.00 L461.86,266.00 L461.86,265.56 L463.14,265.56 L463.14,265.19 L464.42,265.19 L464.42,264.16 L465.70,264.16 L465.70,262.88 L466.98,262.88 L466.98,261.32 L468.26,261.32 L468.26,259.15 L469.54,259.15 L469.54,257.21 L470.82,257.21 L470.82,254.00 L472.10,254.00 L472.10,251.15 L473.38,251.15 L473.38,247.32 L474.66,247.32 L474.66,241.30 L475.94,241.30 L475.94,241.30 L477.22,241.30 L477.22,238.20 L478.50,238.20 L478.50,239.54 L479.78,239.54 L479.78,244.73 L481.06,244.73 L481.06,248.83 L482.34,248.83 L482.34,253.08 L483.62,253.08 L483.62,254.39 L484.90,254.39 L484.90,257.38 L486.18,257.38 L486.18,258.63 L487.46,258.63 L487.46,260.67 L488.74,260.67 L488.74,262.45 L490.02,262.45 L490.02,263.44 L491.30,263.44 L491.30,264.01 L492.58,264.01 L492.58,264.97 L493.86,264.97 L493.86,265.29 L495.14,265.29 L495.14,266.20 L496.42,266.20 L496.42,266.60 L497.70,266.60 L497.70,266.66 L498.98,266.66 L498.98,267.10 L500.26,267.10 L500.26,267.49 L501.54,267.49 L501.54,267.42 L502.82,267.42 L502.82,267.78 L504.10,267.78 L504.10,268.59 L505.38,268.59 L505.38,268.09 L506.66,268.09 L506.66,268.72 L507.94,268.72 L507.94,268.82 L509.22,268.82 L509.22,268.69 L510.50,268.69 L510.50,268.95 L511.78,268.95 L511.78,268.76 L513.06,268.76 L513.06,268.84 L514.34,268.84 L514.34,268.92 L515.62,268.92 L515.62,269.30 L516.90,269.30 L516.90,269.30 L518.18,269.30 L518.18,269.30 L519.46,269.30 L519.46,269.30 L520.74,269.30 L520.74,269.30 L522.02,269.30 L522.02,269.30 L523.30,269.30 L523.30,269.30 L524.58,269.30 L524.58,269.30 L525.86,269.30 L525.86,269.30 L527.14,269.30 L527.14,269.30 L528.42,269.30 L528.42,269.30 L529.70,269.30 L529.70,269.30 L530.98,269.30 L530.98,269.30 L532.26,269.30 L532.26,269.30 L533.54,269.30 L533.54,269.30 L534.82,269.30 L534.82,269.30 L536.10,269.30 L536.10,269.30 L537.38,269.30 L537.38,269.30 L538.66,269.30 L538.66,269.30 L539.94,269.30 L539.94,269.30 L541.22,269.30 L541.22,269.30 L542.50,269.30 L542.50,269.30 Z" fill="#3e26a8" stroke="#2a1a86" stroke-width="0.3" stroke-linejoin="miter"/>
<path d="M414.5,269.30 L414.5,227.5 L542.5,227.5 L542.5,269.30" fill="none" stroke="#565656" stroke-width="1.0"/>
<rect x="414.0" y="268.50" width="129.0" height="1.6" fill="#4a4478"/>
<line x1="414.50" y1="227.5" x2="414.50" y2="228.8" stroke="#565656" stroke-width="1"/>
<line x1="478.50" y1="227.5" x2="478.50" y2="228.8" stroke="#565656" stroke-width="1"/>
<line x1="542.50" y1="227.5" x2="542.50" y2="228.8" stroke="#565656" stroke-width="1"/>
<path d="M48.50,371.80 L48.50,371.80 L49.77,371.80 L49.77,371.80 L51.04,371.80 L51.04,371.80 L52.31,371.80 L52.31,371.80 L53.58,371.80 L53.58,371.80 L54.85,371.80 L54.85,371.38 L56.12,371.38 L56.12,371.33 L57.39,371.33 L57.39,371.28 L58.66,371.28 L58.66,371.23 L59.93,371.23 L59.93,370.89 L61.20,370.89 L61.20,371.21 L62.47,371.21 L62.47,370.98 L63.74,370.98 L63.74,371.03 L65.01,371.03 L65.01,371.05 L66.28,371.05 L66.28,370.81 L67.55,370.81 L67.55,371.01 L68.82,371.01 L68.82,370.76 L70.09,370.76 L70.09,370.51 L71.36,370.51 L71.36,370.44 L72.63,370.44 L72.63,370.48 L73.90,370.48 L73.90,370.82 L75.17,370.82 L75.17,370.38 L76.44,370.38 L76.44,370.77 L77.71,370.77 L77.71,370.59 L78.98,370.59 L78.98,370.56 L80.25,370.56 L80.25,370.09 L81.52,370.09 L81.52,370.18 L82.79,370.18 L82.79,369.81 L84.06,369.81 L84.06,369.91 L85.33,369.91 L85.33,369.87 L86.60,369.87 L86.60,369.68 L87.87,369.68 L87.87,369.48 L89.14,369.48 L89.14,369.65 L90.41,369.65 L90.41,369.48 L91.68,369.48 L91.68,369.03 L92.95,369.03 L92.95,368.59 L94.22,368.59 L94.22,368.57 L95.49,368.57 L95.49,368.18 L96.76,368.18 L96.76,367.44 L98.03,367.44 L98.03,366.50 L99.30,366.50 L99.30,365.82 L100.57,365.82 L100.57,364.80 L101.84,364.80 L101.84,362.78 L103.11,362.78 L103.11,361.31 L104.38,361.31 L104.38,357.96 L105.65,357.96 L105.65,355.47 L106.92,355.47 L106.92,351.53 L108.19,351.53 L108.19,347.56 L109.46,347.56 L109.46,340.69 L110.73,340.69 L110.73,335.07 L112.00,335.07 L112.00,335.40 L113.27,335.40 L113.27,339.68 L114.54,339.68 L114.54,343.74 L115.81,343.74 L115.81,349.94 L117.08,349.94 L117.08,353.07 L118.35,353.07 L118.35,356.95 L119.62,356.95 L119.62,360.32 L120.89,360.32 L120.89,363.17 L122.16,363.17 L122.16,364.48 L123.43,364.48 L123.43,366.09 L124.70,366.09 L124.70,367.53 L125.97,367.53 L125.97,368.50 L127.24,368.50 L127.24,368.94 L128.51,368.94 L128.51,369.35 L129.78,369.35 L129.78,369.85 L131.05,369.85 L131.05,370.37 L132.32,370.37 L132.32,370.04 L133.59,370.04 L133.59,370.21 L134.86,370.21 L134.86,370.84 L136.13,370.84 L136.13,370.80 L137.40,370.80 L137.40,370.87 L138.67,370.87 L138.67,371.22 L139.94,371.22 L139.94,371.09 L141.21,371.09 L141.21,371.29 L142.48,371.29 L142.48,371.33 L143.75,371.33 L143.75,371.36 L145.02,371.36 L145.02,371.38 L146.29,371.38 L146.29,371.41 L147.56,371.41 L147.56,371.44 L148.83,371.44 L148.83,371.47 L150.10,371.47 L150.10,371.50 L151.37,371.50 L151.37,371.53 L152.64,371.53 L152.64,371.56 L153.91,371.56 L153.91,371.59 L155.18,371.59 L155.18,371.80 L156.45,371.80 L156.45,371.80 L157.72,371.80 L157.72,371.80 L158.99,371.80 L158.99,371.80 L160.26,371.80 L160.26,371.80 L161.53,371.80 L161.53,371.80 L162.80,371.80 L162.80,371.80 L164.07,371.80 L164.07,371.80 L165.34,371.80 L165.34,371.80 L166.61,371.80 L166.61,371.80 L167.88,371.80 L167.88,371.80 L169.15,371.80 L169.15,371.80 L170.42,371.80 L170.42,371.80 L171.69,371.80 L171.69,371.80 L172.96,371.80 L172.96,371.80 L174.23,371.80 L174.23,371.80 L175.50,371.80 L175.50,371.80 Z" fill="#3e26a8" stroke="#2a1a86" stroke-width="0.3" stroke-linejoin="miter"/>
<path d="M48.5,371.80 L48.5,330.5 L175.5,330.5 L175.5,371.80" fill="none" stroke="#565656" stroke-width="1.0"/>
<rect x="48.0" y="371.00" width="128.0" height="1.6" fill="#4a4478"/>
<line x1="48.50" y1="330.5" x2="48.50" y2="331.8" stroke="#565656" stroke-width="1"/>
<line x1="112.00" y1="330.5" x2="112.00" y2="331.8" stroke="#565656" stroke-width="1"/>
<line x1="175.50" y1="330.5" x2="175.50" y2="331.8" stroke="#565656" stroke-width="1"/>
<path d="M231.50,371.80 L231.50,371.80 L232.78,371.80 L232.78,371.80 L234.06,371.80 L234.06,371.80 L235.34,371.80 L235.34,371.80 L236.62,371.80 L236.62,371.80 L237.90,371.80 L237.90,371.80 L239.18,371.80 L239.18,371.80 L240.46,371.80 L240.46,371.80 L241.74,371.80 L241.74,371.80 L243.02,371.80 L243.02,371.80 L244.30,371.80 L244.30,371.80 L245.58,371.80 L245.58,371.80 L246.86,371.80 L246.86,371.80 L248.14,371.80 L248.14,371.80 L249.42,371.80 L249.42,371.70 L250.70,371.70 L250.70,371.69 L251.98,371.69 L251.98,371.68 L253.26,371.68 L253.26,371.67 L254.54,371.67 L254.54,371.67 L255.82,371.67 L255.82,371.66 L257.10,371.66 L257.10,371.65 L258.38,371.65 L258.38,371.64 L259.66,371.64 L259.66,371.63 L260.94,371.63 L260.94,371.62 L262.22,371.62 L262.22,371.61 L263.50,371.61 L263.50,371.61 L264.78,371.61 L264.78,371.56 L266.06,371.56 L266.06,371.37 L267.34,371.37 L267.34,371.23 L268.62,371.23 L268.62,370.83 L269.90,370.83 L269.90,371.08 L271.18,371.08 L271.18,370.75 L272.46,370.75 L272.46,370.21 L273.74,370.21 L273.74,369.98 L275.02,369.98 L275.02,369.64 L276.30,369.64 L276.30,369.24 L277.58,369.24 L277.58,369.17 L278.86,369.17 L278.86,368.41 L280.14,368.41 L280.14,367.92 L281.42,367.92 L281.42,367.53 L282.70,367.53 L282.70,366.60 L283.98,366.60 L283.98,365.77 L285.26,365.77 L285.26,363.00 L286.54,363.00 L286.54,360.03 L287.82,360.03 L287.82,356.91 L289.10,356.91 L289.10,349.96 L290.38,349.96 L290.38,339.76 L291.66,339.76 L291.66,334.55 L292.94,334.55 L292.94,330.10 L294.22,330.10 L294.22,332.29 L295.50,332.29 L295.50,331.94 L296.78,331.94 L296.78,342.45 L298.06,342.45 L298.06,348.87 L299.34,348.87 L299.34,352.46 L300.62,352.46 L300.62,356.32 L301.90,356.32 L301.90,361.47 L303.18,361.47 L303.18,364.50 L304.46,364.50 L304.46,366.09 L305.74,366.09 L305.74,367.38 L307.02,367.38 L307.02,368.33 L308.30,368.33 L308.30,369.15 L309.58,369.15 L309.58,369.98 L310.86,369.98 L310.86,370.05 L312.14,370.05 L312.14,370.36 L313.42,370.36 L313.42,370.80 L314.70,370.80 L314.70,371.36 L315.98,371.36 L315.98,371.34 L317.26,371.34 L317.26,371.43 L318.54,371.43 L318.54,371.56 L319.82,371.56 L319.82,371.63 L321.10,371.63 L321.10,371.80 L322.38,371.80 L322.38,371.80 L323.66,371.80 L323.66,371.80 L324.94,371.80 L324.94,371.80 L326.22,371.80 L326.22,371.80 L327.50,371.80 L327.50,371.80 L328.78,371.80 L328.78,371.80 L330.06,371.80 L330.06,371.80 L331.34,371.80 L331.34,371.80 L332.62,371.80 L332.62,371.80 L333.90,371.80 L333.90,371.80 L335.18,371.80 L335.18,371.80 L336.46,371.80 L336.46,371.80 L337.74,371.80 L337.74,371.80 L339.02,371.80 L339.02,371.80 L340.30,371.80 L340.30,371.80 L341.58,371.80 L341.58,371.80 L342.86,371.80 L342.86,371.80 L344.14,371.80 L344.14,371.80 L345.42,371.80 L345.42,371.80 L346.70,371.80 L346.70,371.80 L347.98,371.80 L347.98,371.80 L349.26,371.80 L349.26,371.80 L350.54,371.80 L350.54,371.80 L351.82,371.80 L351.82,371.80 L353.10,371.80 L353.10,371.80 L354.38,371.80 L354.38,371.80 L355.66,371.80 L355.66,371.80 L356.94,371.80 L356.94,371.80 L358.22,371.80 L358.22,371.80 L359.50,371.80 L359.50,371.80 Z" fill="#3e26a8" stroke="#2a1a86" stroke-width="0.3" stroke-linejoin="miter"/>
<path d="M231.5,371.80 L231.5,330.5 L359.5,330.5 L359.5,371.80" fill="none" stroke="#565656" stroke-width="1.0"/>
<rect x="231.0" y="371.00" width="129.0" height="1.6" fill="#4a4478"/>
<line x1="231.50" y1="330.5" x2="231.50" y2="331.8" stroke="#565656" stroke-width="1"/>
<line x1="295.50" y1="330.5" x2="295.50" y2="331.8" stroke="#565656" stroke-width="1"/>
<line x1="359.50" y1="330.5" x2="359.50" y2="331.8" stroke="#565656" stroke-width="1"/>
<path d="M414.50,371.80 L414.50,371.80 L415.78,371.80 L415.78,371.80 L417.06,371.80 L417.06,371.80 L418.34,371.80 L418.34,371.80 L419.62,371.80 L419.62,371.80 L420.90,371.80 L420.90,371.80 L422.18,371.80 L422.18,371.80 L423.46,371.80 L423.46,371.80 L424.74,371.80 L424.74,371.59 L426.02,371.59 L426.02,371.57 L427.30,371.57 L427.30,371.47 L428.58,371.47 L428.58,371.44 L429.86,371.44 L429.86,371.41 L431.14,371.41 L431.14,371.37 L432.42,371.37 L432.42,371.34 L433.70,371.34 L433.70,371.31 L434.98,371.31 L434.98,371.27 L436.26,371.27 L436.26,371.22 L437.54,371.22 L437.54,371.31 L438.82,371.31 L438.82,371.09 L440.10,371.09 L440.10,370.94 L441.38,370.94 L441.38,370.74 L442.66,370.74 L442.66,371.05 L443.94,371.05 L443.94,370.90 L445.22,370.90 L445.22,370.95 L446.50,370.95 L446.50,370.79 L447.78,370.79 L447.78,370.53 L449.06,370.53 L449.06,370.30 L450.34,370.30 L450.34,370.19 L451.62,370.19 L451.62,370.03 L452.90,370.03 L452.90,370.41 L454.18,370.41 L454.18,370.04 L455.46,370.04 L455.46,369.40 L456.74,369.40 L456.74,369.42 L458.02,369.42 L458.02,369.45 L459.30,369.45 L459.30,368.82 L460.58,368.82 L460.58,368.37 L461.86,368.37 L461.86,368.23 L463.14,368.23 L463.14,367.63 L464.42,367.63 L464.42,366.86 L465.70,366.86 L465.70,365.52 L466.98,365.52 L466.98,364.21 L468.26,364.21 L468.26,362.25 L469.54,362.25 L469.54,359.79 L470.82,359.79 L470.82,356.77 L472.10,356.77 L472.10,351.35 L473.38,351.35 L473.38,346.84 L474.66,346.84 L474.66,341.95 L475.94,341.95 L475.94,340.18 L477.22,340.18 L477.22,337.20 L478.50,337.20 L478.50,340.40 L479.78,340.40 L479.78,342.39 L481.06,342.39 L481.06,345.69 L482.34,345.69 L482.34,347.21 L483.62,347.21 L483.62,351.75 L484.90,351.75 L484.90,354.43 L486.18,354.43 L486.18,357.89 L487.46,357.89 L487.46,360.64 L488.74,360.64 L488.74,363.43 L490.02,363.43 L490.02,365.69 L491.30,365.69 L491.30,367.21 L492.58,367.21 L492.58,368.63 L493.86,368.63 L493.86,369.33 L495.14,369.33 L495.14,369.66 L496.42,369.66 L496.42,370.38 L497.70,370.38 L497.70,370.86 L498.98,370.86 L498.98,370.93 L500.26,370.93 L500.26,370.85 L501.54,370.85 L501.54,371.41 L502.82,371.41 L502.82,371.47 L504.10,371.47 L504.10,371.23 L505.38,371.23 L505.38,371.27 L506.66,371.27 L506.66,371.31 L507.94,371.31 L507.94,371.35 L509.22,371.35 L509.22,371.39 L510.50,371.39 L510.50,371.43 L511.78,371.43 L511.78,371.47 L513.06,371.47 L513.06,371.57 L514.34,371.57 L514.34,371.60 L515.62,371.60 L515.62,371.80 L516.90,371.80 L516.90,371.80 L518.18,371.80 L518.18,371.80 L519.46,371.80 L519.46,371.80 L520.74,371.80 L520.74,371.80 L522.02,371.80 L522.02,371.80 L523.30,371.80 L523.30,371.80 L524.58,371.80 L524.58,371.80 L525.86,371.80 L525.86,371.80 L527.14,371.80 L527.14,371.80 L528.42,371.80 L528.42,371.80 L529.70,371.80 L529.70,371.80 L530.98,371.80 L530.98,371.80 L532.26,371.80 L532.26,371.80 L533.54,371.80 L533.54,371.80 L534.82,371.80 L534.82,371.80 L536.10,371.80 L536.10,371.80 L537.38,371.80 L537.38,371.80 L538.66,371.80 L538.66,371.80 L539.94,371.80 L539.94,371.80 L541.22,371.80 L541.22,371.80 L542.50,371.80 L542.50,371.80 Z" fill="#3e26a8" stroke="#2a1a86" stroke-width="0.3" stroke-linejoin="miter"/>
<path d="M414.5,371.80 L414.5,330.5 L542.5,330.5 L542.5,371.80" fill="none" stroke="#565656" stroke-width="1.0"/>
<rect x="414.0" y="371.00" width="129.0" height="1.6" fill="#4a4478"/>
<line x1="414.50" y1="330.5" x2="414.50" y2="331.8" stroke="#565656" stroke-width="1"/>
<line x1="478.50" y1="330.5" x2="478.50" y2="331.8" stroke="#565656" stroke-width="1"/>
<line x1="542.50" y1="330.5" x2="542.50" y2="331.8" stroke="#565656" stroke-width="1"/>
<path d="M48.50,474.80 L48.50,474.80 L49.77,474.80 L49.77,474.80 L51.04,474.80 L51.04,474.80 L52.31,474.80 L52.31,474.80 L53.58,474.80 L53.58,474.80 L54.85,474.80 L54.85,474.80 L56.12,474.80 L56.12,474.80 L57.39,474.80 L57.39,474.80 L58.66,474.80 L58.66,474.80 L59.93,474.80 L59.93,474.80 L61.20,474.80 L61.20,474.80 L62.47,474.80 L62.47,474.80 L63.74,474.80 L63.74,474.80 L65.01,474.80 L65.01,474.80 L66.28,474.80 L66.28,474.80 L67.55,474.80 L67.55,474.80 L68.82,474.80 L68.82,474.80 L70.09,474.80 L70.09,474.69 L71.36,474.69 L71.36,474.68 L72.63,474.68 L72.63,474.67 L73.90,474.67 L73.90,474.66 L75.17,474.66 L75.17,474.65 L76.44,474.65 L76.44,474.64 L77.71,474.64 L77.71,474.63 L78.98,474.63 L78.98,474.62 L80.25,474.62 L80.25,474.61 L81.52,474.61 L81.52,474.60 L82.79,474.60 L82.79,474.56 L84.06,474.56 L84.06,474.53 L85.33,474.53 L85.33,474.50 L86.60,474.50 L86.60,474.47 L87.87,474.47 L87.87,474.44 L89.14,474.44 L89.14,474.41 L90.41,474.41 L90.41,474.27 L91.68,474.27 L91.68,474.12 L92.95,474.12 L92.95,473.75 L94.22,473.75 L94.22,474.05 L95.49,474.05 L95.49,473.35 L96.76,473.35 L96.76,472.28 L98.03,472.28 L98.03,470.45 L99.30,470.45 L99.30,468.84 L100.57,468.84 L100.57,466.93 L101.84,466.93 L101.84,462.93 L103.11,462.93 L103.11,459.78 L104.38,459.78 L104.38,455.43 L105.65,455.43 L105.65,450.83 L106.92,450.83 L106.92,444.52 L108.19,444.52 L108.19,440.82 L109.46,440.82 L109.46,436.70 L110.73,436.70 L110.73,437.42 L112.00,437.42 L112.00,438.18 L113.27,438.18 L113.27,442.09 L114.54,442.09 L114.54,446.10 L115.81,446.10 L115.81,451.55 L117.08,451.55 L117.08,454.40 L118.35,454.40 L118.35,459.76 L119.62,459.76 L119.62,462.32 L120.89,462.32 L120.89,466.37 L122.16,466.37 L122.16,468.11 L123.43,468.11 L123.43,470.23 L124.70,470.23 L124.70,471.41 L125.97,471.41 L125.97,472.50 L127.24,472.50 L127.24,473.25 L128.51,473.25 L128.51,473.50 L129.78,473.50 L129.78,473.85 L131.05,473.85 L131.05,474.16 L132.32,474.16 L132.32,474.36 L133.59,474.36 L133.59,474.25 L134.86,474.25 L134.86,474.31 L136.13,474.31 L136.13,474.36 L137.40,474.36 L137.40,474.42 L138.67,474.42 L138.67,474.47 L139.94,474.47 L139.94,474.51 L141.21,474.51 L141.21,474.54 L142.48,474.54 L142.48,474.56 L143.75,474.56 L143.75,474.59 L145.02,474.59 L145.02,474.61 L146.29,474.61 L146.29,474.64 L147.56,474.64 L147.56,474.66 L148.83,474.66 L148.83,474.69 L150.10,474.69 L150.10,474.80 L151.37,474.80 L151.37,474.80 L152.64,474.80 L152.64,474.80 L153.91,474.80 L153.91,474.80 L155.18,474.80 L155.18,474.80 L156.45,474.80 L156.45,474.80 L157.72,474.80 L157.72,474.80 L158.99,474.80 L158.99,474.80 L160.26,474.80 L160.26,474.80 L161.53,474.80 L161.53,474.80 L162.80,474.80 L162.80,474.80 L164.07,474.80 L164.07,474.80 L165.34,474.80 L165.34,474.80 L166.61,474.80 L166.61,474.80 L167.88,474.80 L167.88,474.80 L169.15,474.80 L169.15,474.80 L170.42,474.80 L170.42,474.80 L171.69,474.80 L171.69,474.80 L172.96,474.80 L172.96,474.80 L174.23,474.80 L174.23,474.80 L175.50,474.80 L175.50,474.80 Z" fill="#3e26a8" stroke="#2a1a86" stroke-width="0.3" stroke-linejoin="miter"/>
<path d="M48.5,474.80 L48.5,433.5 L175.5,433.5 L175.5,474.80" fill="none" stroke="#565656" stroke-width="1.0"/>
<rect x="48.0" y="474.00" width="128.0" height="1.6" fill="#4a4478"/>
<line x1="48.50" y1="433.5" x2="48.50" y2="434.8" stroke="#565656" stroke-width="1"/>
<line x1="112.00" y1="433.5" x2="112.00" y2="434.8" stroke="#565656" stroke-width="1"/>
<line x1="175.50" y1="433.5" x2="175.50" y2="434.8" stroke="#565656" stroke-width="1"/>
<path d="M231.50,474.80 L231.50,474.80 L232.78,474.80 L232.78,474.80 L234.06,474.80 L234.06,474.80 L235.34,474.80 L235.34,474.80 L236.62,474.80 L236.62,474.80 L237.90,474.80 L237.90,474.80 L239.18,474.80 L239.18,474.80 L240.46,474.80 L240.46,474.80 L241.74,474.80 L241.74,474.80 L243.02,474.80 L243.02,474.80 L244.30,474.80 L244.30,474.80 L245.58,474.80 L245.58,474.80 L246.86,474.80 L246.86,474.80 L248.14,474.80 L248.14,474.80 L249.42,474.80 L249.42,474.70 L250.70,474.70 L250.70,474.69 L251.98,474.69 L251.98,474.68 L253.26,474.68 L253.26,474.67 L254.54,474.67 L254.54,474.67 L255.82,474.67 L255.82,474.66 L257.10,474.66 L257.10,474.65 L258.38,474.65 L258.38,474.64 L259.66,474.64 L259.66,474.63 L260.94,474.63 L260.94,474.62 L262.22,474.62 L262.22,474.61 L263.50,474.61 L263.50,474.61 L264.78,474.61 L264.78,474.59 L266.06,474.59 L266.06,474.46 L267.34,474.46 L267.34,474.40 L268.62,474.40 L268.62,474.34 L269.90,474.34 L269.90,474.28 L271.18,474.28 L271.18,474.22 L272.46,474.22 L272.46,474.13 L273.74,474.13 L273.74,474.16 L275.02,474.16 L275.02,473.80 L276.30,473.80 L276.30,473.48 L277.58,473.48 L277.58,472.92 L278.86,472.92 L278.86,471.95 L280.14,471.95 L280.14,471.40 L281.42,471.40 L281.42,469.65 L282.70,469.65 L282.70,468.06 L283.98,468.06 L283.98,465.51 L285.26,465.51 L285.26,461.66 L286.54,461.66 L286.54,457.20 L287.82,457.20 L287.82,454.50 L289.10,454.50 L289.10,449.28 L290.38,449.28 L290.38,444.74 L291.66,444.74 L291.66,441.80 L292.94,441.80 L292.94,443.22 L294.22,443.22 L294.22,441.38 L295.50,441.38 L295.50,446.18 L296.78,446.18 L296.78,447.50 L298.06,447.50 L298.06,451.63 L299.34,451.63 L299.34,454.77 L300.62,454.77 L300.62,459.01 L301.90,459.01 L301.90,463.08 L303.18,463.08 L303.18,465.81 L304.46,465.81 L304.46,467.67 L305.74,467.67 L305.74,469.15 L307.02,469.15 L307.02,470.21 L308.30,470.21 L308.30,470.93 L309.58,470.93 L309.58,471.70 L310.86,471.70 L310.86,472.24 L312.14,472.24 L312.14,472.62 L313.42,472.62 L313.42,472.61 L314.70,472.61 L314.70,472.82 L315.98,472.82 L315.98,473.37 L317.26,473.37 L317.26,473.49 L318.54,473.49 L318.54,473.79 L319.82,473.79 L319.82,474.15 L321.10,474.15 L321.10,474.22 L322.38,474.22 L322.38,474.34 L323.66,474.34 L323.66,474.47 L324.94,474.47 L324.94,474.60 L326.22,474.60 L326.22,474.61 L327.50,474.61 L327.50,474.62 L328.78,474.62 L328.78,474.63 L330.06,474.63 L330.06,474.64 L331.34,474.64 L331.34,474.65 L332.62,474.65 L332.62,474.66 L333.90,474.66 L333.90,474.66 L335.18,474.66 L335.18,474.67 L336.46,474.67 L336.46,474.68 L337.74,474.68 L337.74,474.69 L339.02,474.69 L339.02,474.70 L340.30,474.70 L340.30,474.80 L341.58,474.80 L341.58,474.80 L342.86,474.80 L342.86,474.80 L344.14,474.80 L344.14,474.80 L345.42,474.80 L345.42,474.80 L346.70,474.80 L346.70,474.80 L347.98,474.80 L347.98,474.80 L349.26,474.80 L349.26,474.80 L350.54,474.80 L350.54,474.80 L351.82,474.80 L351.82,474.80 L353.10,474.80 L353.10,474.80 L354.38,474.80 L354.38,474.80 L355.66,474.80 L355.66,474.80 L356.94,474.80 L356.94,474.80 L358.22,474.80 L358.22,474.80 L359.50,474.80 L359.50,474.80 Z" fill="#3e26a8" stroke="#2a1a86" stroke-width="0.3" stroke-linejoin="miter"/>
<path d="M231.5,474.80 L231.5,433.5 L359.5,433.5 L359.5,474.80" fill="none" stroke="#565656" stroke-width="1.0"/>
<rect x="231.0" y="474.00" width="129.0" height="1.6" fill="#4a4478"/>
<line x1="231.50" y1="433.5" x2="231.50" y2="434.8" stroke="#565656" stroke-width="1"/>
<line x1="295.50" y1="433.5" x2="295.50" y2="434.8" stroke="#565656" stroke-width="1"/>
<line x1="359.50" y1="433.5" x2="359.50" y2="434.8" stroke="#565656" stroke-width="1"/>
</g>
<g filter="url(#bt)">
<text x="112.25" y="15.80" font-size="14" font-weight="bold" text-anchor="middle" style="fill:#000;stroke:#000">Ca</text>
<text x="41.80" y="25.80" font-size="12.5" text-anchor="end">500</text>
<text x="41.80" y="68.70" font-size="12.5" text-anchor="end">0</text>
<text transform="translate(13.50,42.65) rotate(-90)" font-size="14.5" text-anchor="middle">counts</text>
<text x="47.90" y="81.90" font-size="12.5" text-anchor="middle">-5</text>
<text x="112.00" y="81.90" font-size="12.5" text-anchor="middle">0</text>
<text x="174.90" y="81.90" font-size="12.5" text-anchor="middle">5</text>
<text x="112.00" y="100.50" font-size="14.5" text-anchor="middle">z-score</text>
<text x="295.05" y="15.80" font-size="14" font-weight="bold" text-anchor="middle" style="fill:#000;stroke:#000">Cd</text>
<text x="224.80" y="25.80" font-size="12.5" text-anchor="end">500</text>
<text x="224.80" y="68.70" font-size="12.5" text-anchor="end">0</text>
<text transform="translate(196.50,42.65) rotate(-90)" font-size="14.5" text-anchor="middle">counts</text>
<text x="230.90" y="81.90" font-size="12.5" text-anchor="middle">-5</text>
<text x="295.50" y="81.90" font-size="12.5" text-anchor="middle">0</text>
<text x="358.50" y="81.90" font-size="12.5" text-anchor="middle">5</text>
<text x="295.50" y="100.50" font-size="14.5" text-anchor="middle">z-score</text>
<text x="478.05" y="15.80" font-size="14" font-weight="bold" text-anchor="middle" style="fill:#000;stroke:#000">Co</text>
<text x="407.80" y="25.80" font-size="12.5" text-anchor="end">500</text>
<text x="407.80" y="68.70" font-size="12.5" text-anchor="end">0</text>
<text transform="translate(379.50,42.65) rotate(-90)" font-size="14.5" text-anchor="middle">counts</text>
<text x="413.90" y="81.90" font-size="12.5" text-anchor="middle">-5</text>
<text x="478.50" y="81.90" font-size="12.5" text-anchor="middle">0</text>
<text x="541.50" y="81.90" font-size="12.5" text-anchor="middle">5</text>
<text x="478.50" y="100.50" font-size="14.5" text-anchor="middle">z-score</text>
<text x="112.25" y="118.80" font-size="14" font-weight="bold" text-anchor="middle" style="fill:#000;stroke:#000">Cu</text>
<text x="41.80" y="128.80" font-size="12.5" text-anchor="end">500</text>
<text x="41.80" y="171.30" font-size="12.5" text-anchor="end">0</text>
<text transform="translate(13.50,145.45) rotate(-90)" font-size="14.5" text-anchor="middle">counts</text>
<text x="47.90" y="184.50" font-size="12.5" text-anchor="middle">-5</text>
<text x="112.00" y="184.50" font-size="12.5" text-anchor="middle">0</text>
<text x="174.90" y="184.50" font-size="12.5" text-anchor="middle">5</text>
<text x="112.00" y="203.10" font-size="14.5" text-anchor="middle">z-score</text>
<text x="295.05" y="118.80" font-size="14" font-weight="bold" text-anchor="middle" style="fill:#000;stroke:#000">Fe</text>
<text x="224.80" y="128.80" font-size="12.5" text-anchor="end">500</text>
<text x="224.80" y="171.30" font-size="12.5" text-anchor="end">0</text>
<text transform="translate(196.50,145.45) rotate(-90)" font-size="14.5" text-anchor="middle">counts</text>
<text x="230.90" y="184.50" font-size="12.5" text-anchor="middle">-5</text>
<text x="295.50" y="184.50" font-size="12.5" text-anchor="middle">0</text>
<text x="358.50" y="184.50" font-size="12.5" text-anchor="middle">5</text>
<text x="295.50" y="203.10" font-size="14.5" text-anchor="middle">z-score</text>
<text x="478.05" y="118.80" font-size="14" font-weight="bold" text-anchor="middle" style="fill:#000;stroke:#000">K</text>
<text x="407.80" y="128.80" font-size="12.5" text-anchor="end">500</text>
<text x="407.80" y="171.30" font-size="12.5" text-anchor="end">0</text>
<text transform="translate(379.50,145.45) rotate(-90)" font-size="14.5" text-anchor="middle">counts</text>
<text x="413.90" y="184.50" font-size="12.5" text-anchor="middle">-5</text>
<text x="478.50" y="184.50" font-size="12.5" text-anchor="middle">0</text>
<text x="541.50" y="184.50" font-size="12.5" text-anchor="middle">5</text>
<text x="478.50" y="203.10" font-size="14.5" text-anchor="middle">z-score</text>
<text x="112.25" y="221.80" font-size="14" font-weight="bold" text-anchor="middle" style="fill:#000;stroke:#000">Mg</text>
<text x="41.80" y="231.80" font-size="12.5" text-anchor="end">500</text>
<text x="41.80" y="274.30" font-size="12.5" text-anchor="end">0</text>
<text transform="translate(13.50,248.45) rotate(-90)" font-size="14.5" text-anchor="middle">counts</text>
<text x="47.90" y="287.50" font-size="12.5" text-anchor="middle">-5</text>
<text x="112.00" y="287.50" font-size="12.5" text-anchor="middle">0</text>
<text x="174.90" y="287.50" font-size="12.5" text-anchor="middle">5</text>
<text x="112.00" y="306.10" font-size="14.5" text-anchor="middle">z-score</text>
<text x="295.05" y="221.80" font-size="14" font-weight="bold" text-anchor="middle" style="fill:#000;stroke:#000">Mn</text>
<text x="224.80" y="231.80" font-size="12.5" text-anchor="end">500</text>
<text x="224.80" y="274.30" font-size="12.5" text-anchor="end">0</text>
<text transform="translate(196.50,248.45) rotate(-90)" font-size="14.5" text-anchor="middle">counts</text>
<text x="230.90" y="287.50" font-size="12.5" text-anchor="middle">-5</text>
<text x="295.50" y="287.50" font-size="12.5" text-anchor="middle">0</text>
<text x="358.50" y="287.50" font-size="12.5" text-anchor="middle">5</text>
<text x="295.50" y="306.10" font-size="14.5" text-anchor="middle">z-score</text>
<text x="478.05" y="221.80" font-size="14" font-weight="bold" text-anchor="middle" style="fill:#000;stroke:#000">Mo</text>
<text x="407.80" y="231.80" font-size="12.5" text-anchor="end">500</text>
<text x="407.80" y="274.30" font-size="12.5" text-anchor="end">0</text>
<text transform="translate(379.50,248.45) rotate(-90)" font-size="14.5" text-anchor="middle">counts</text>
<text x="413.90" y="287.50" font-size="12.5" text-anchor="middle">-5</text>
<text x="478.50" y="287.50" font-size="12.5" text-anchor="middle">0</text>
<text x="541.50" y="287.50" font-size="12.5" text-anchor="middle">5</text>
<text x="478.50" y="306.10" font-size="14.5" text-anchor="middle">z-score</text>
<text x="112.25" y="324.80" font-size="14" font-weight="bold" text-anchor="middle" style="fill:#000;stroke:#000">Na</text>
<text x="41.80" y="334.80" font-size="12.5" text-anchor="end">500</text>
<text x="41.80" y="376.80" font-size="12.5" text-anchor="end">0</text>
<text transform="translate(13.50,351.20) rotate(-90)" font-size="14.5" text-anchor="middle">counts</text>
<text x="47.90" y="390.00" font-size="12.5" text-anchor="middle">-5</text>
<text x="112.00" y="390.00" font-size="12.5" text-anchor="middle">0</text>
<text x="174.90" y="390.00" font-size="12.5" text-anchor="middle">5</text>
<text x="112.00" y="408.60" font-size="14.5" text-anchor="middle">z-score</text>
<text x="295.05" y="324.80" font-size="14" font-weight="bold" text-anchor="middle" style="fill:#000;stroke:#000">Ni</text>
<text x="224.80" y="334.80" font-size="12.5" text-anchor="end">500</text>
<text x="224.80" y="376.80" font-size="12.5" text-anchor="end">0</text>
<text transform="translate(196.50,351.20) rotate(-90)" font-size="14.5" text-anchor="middle">counts</text>
<text x="230.90" y="390.00" font-size="12.5" text-anchor="middle">-5</text>
<text x="295.50" y="390.00" font-size="12.5" text-anchor="middle">0</text>
<text x="358.50" y="390.00" font-size="12.5" text-anchor="middle">5</text>
<text x="295.50" y="408.60" font-size="14.5" text-anchor="middle">z-score</text>
<text x="478.05" y="324.80" font-size="14" font-weight="bold" text-anchor="middle" style="fill:#000;stroke:#000">P</text>
<text x="407.80" y="334.80" font-size="12.5" text-anchor="end">500</text>
<text x="407.80" y="376.80" font-size="12.5" text-anchor="end">0</text>
<text transform="translate(379.50,351.20) rotate(-90)" font-size="14.5" text-anchor="middle">counts</text>
<text x="413.90" y="390.00" font-size="12.5" text-anchor="middle">-5</text>
<text x="478.50" y="390.00" font-size="12.5" text-anchor="middle">0</text>
<text x="541.50" y="390.00" font-size="12.5" text-anchor="middle">5</text>
<text x="478.50" y="408.60" font-size="14.5" text-anchor="middle">z-score</text>
<text x="112.25" y="427.80" font-size="14" font-weight="bold" text-anchor="middle" style="fill:#000;stroke:#000">S</text>
<text x="41.80" y="437.80" font-size="12.5" text-anchor="end">500</text>
<text x="41.80" y="479.80" font-size="12.5" text-anchor="end">0</text>
<text transform="translate(13.50,454.20) rotate(-90)" font-size="14.5" text-anchor="middle">counts</text>
<text x="47.90" y="493.00" font-size="12.5" text-anchor="middle">-5</text>
<text x="112.00" y="493.00" font-size="12.5" text-anchor="middle">0</text>
<text x="174.90" y="493.00" font-size="12.5" text-anchor="middle">5</text>
<text x="112.00" y="511.60" font-size="14.5" text-anchor="middle">z-score</text>
<text x="295.05" y="427.80" font-size="14" font-weight="bold" text-anchor="middle" style="fill:#000;stroke:#000">Zn</text>
<text x="224.80" y="437.80" font-size="12.5" text-anchor="end">500</text>
<text x="224.80" y="479.80" font-size="12.5" text-anchor="end">0</text>
<text transform="translate(196.50,454.20) rotate(-90)" font-size="14.5" text-anchor="middle">counts</text>
<text x="230.90" y="493.00" font-size="12.5" text-anchor="middle">-5</text>
<text x="295.50" y="493.00" font-size="12.5" text-anchor="middle">0</text>
<text x="358.50" y="493.00" font-size="12.5" text-anchor="middle">5</text>
<text x="295.50" y="511.60" font-size="14.5" text-anchor="middle">z-score</text>
</g>
</svg></body></html>
